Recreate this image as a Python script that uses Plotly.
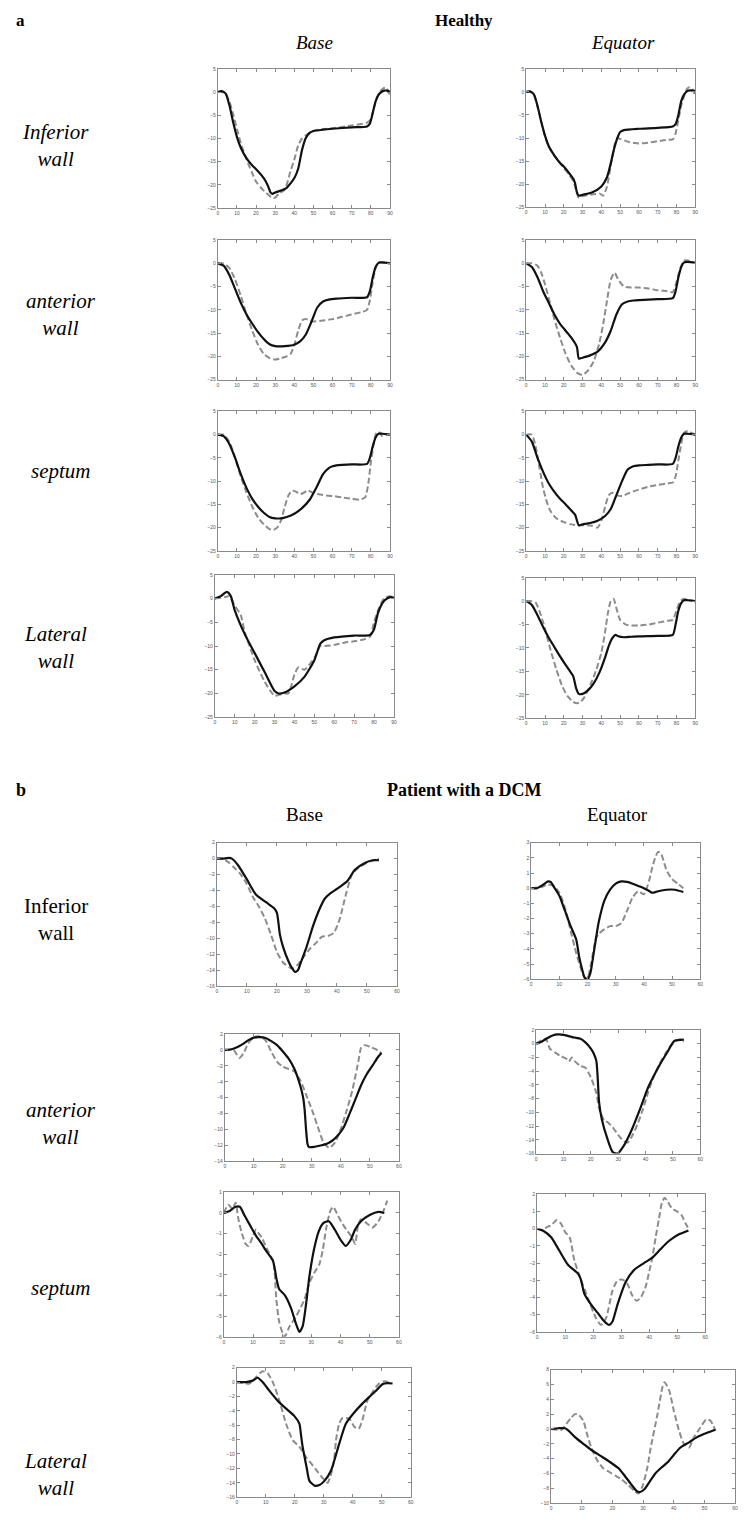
import plotly.graph_objects as go

# the page body adds an 8px margin, so the figure is 8px smaller and positions are shifted
OFF = 8
W, H = 754 - OFF, 1539 - OFF

# ---------------- a: Healthy (x 0..90, y -25..5) ----------------
# Base / Inferior wall
hb_inf_sx = [0, 2, 4, 6, 8, 10, 12, 15, 18, 20, 23, 25, 26.5, 27.5, 28.5, 30, 33, 36, 40, 42, 44, 46, 48, 50, 55, 60, 70, 78, 79.5, 81, 82.5, 84, 85.5, 87, 88.5, 90]
hb_inf_sy = [0, 0.2, -0.3, -2.8, -6.5, -9.7, -12, -14.3, -15.8, -16.6, -18, -19.2, -20.5, -21.6, -21.9, -21.6, -21.2, -20.6, -18.5, -16.5, -12.5, -9.9, -8.8, -8.4, -8.1, -7.9, -7.6, -7.4, -6.8, -4.5, -2, -0.6, 0, 0.3, 0.3, 0.1]
hb_inf_dx = [0, 2, 4, 6, 8, 10, 12, 15, 18, 20, 23, 25, 27, 28.5, 30, 32, 35, 38, 40, 42, 44, 46, 50, 55, 60, 70, 78, 80, 81.5, 83, 85, 86.5, 88, 90]
hb_inf_dy = [0, 0, -0.3, -2, -4.8, -8, -11, -14.5, -17.5, -19.3, -20.8, -21.6, -22.3, -22.8, -22.7, -21.8, -21, -17, -14.5, -11.5, -10, -9.3, -8.3, -8, -7.8, -7.2, -6.6, -5.8, -3.5, -1.5, 0.2, 0.8, 0.9, -0.6]

# Equator / Inferior wall
he_inf_sx = [0, 2, 4, 6, 8, 10, 12, 15, 18, 20, 23, 25, 26, 27, 28, 30, 35, 40, 43, 45, 47, 49, 50, 52, 60, 70, 78, 79.5, 81, 82.5, 84, 85.5, 87, 90]
he_inf_sy = [0, 0.1, -0.5, -3, -6.5, -9.5, -11.8, -13.8, -15.4, -16.2, -17.7, -18.8, -19.8, -21.8, -22.5, -22.3, -21.8, -20.5, -18.5, -15.5, -12, -9.5, -8.7, -8.3, -8, -7.8, -7.5, -7, -5, -2, -0.6, 0.1, 0.3, 0.2]
he_inf_dx = [0, 2, 4, 6, 8, 10, 12, 15, 18, 20, 23, 25, 26, 27, 28, 30, 33, 36, 39, 41, 43, 45, 47, 48.5, 50, 55, 60, 65, 70, 75, 78, 79.5, 81, 82.5, 84, 85.5, 87, 88.5, 90]
he_inf_dy = [0, 0, -0.5, -3.2, -6.5, -9.6, -11.8, -13.8, -15.4, -16.5, -18, -19.3, -20.5, -22, -23, -22.6, -22.3, -22.2, -22, -22.5, -20.5, -16, -11.5, -10, -10.2, -10.9, -11.2, -11, -10.7, -10.4, -10.3, -9, -6, -3, -1, 0.6, 1, 0.6, -1]

# Base / anterior wall
hb_ant_sx = [0, 3, 6, 9, 12, 15, 18, 21, 24, 27, 30, 35, 40, 43, 46, 49, 52, 55, 58, 62, 70, 78, 79.5, 81, 82.5, 84, 86, 90]
hb_ant_sy = [0, -0.5, -2.5, -5.5, -8.5, -11, -13, -14.8, -16.3, -17.4, -17.8, -17.8, -17.5, -16.8, -15.3, -12.5, -9.5, -8.2, -7.8, -7.6, -7.4, -7.3, -6, -3, -0.8, 0.1, 0.2, 0]
hb_ant_dx = [0, 3, 6, 9, 12, 15, 18, 21, 24, 27, 30, 33, 36, 38, 40, 42, 44, 46, 50, 55, 60, 65, 70, 75, 78, 79.5, 81, 82.5, 84, 86, 90]
hb_ant_dy = [0, 0, -1, -3.5, -7, -11, -14.5, -17.5, -19.5, -20.4, -20.7, -20.4, -20, -19.5, -17.5, -14.5, -12.3, -12, -12.5, -12.3, -12, -11.5, -11, -10.5, -10, -8, -4, -1, 0.3, 0.2, 0]

# Equator / anterior wall
he_ant_sx = [0, 3, 6, 9, 12, 15, 18, 21, 24, 27, 28, 30, 34, 38, 42, 45, 48, 51, 54, 57, 60, 70, 78, 79.5, 81, 82.5, 84, 86, 90]
he_ant_sy = [0, -0.8, -3, -6, -8.5, -11, -13, -14.5, -16, -18, -20.5, -20.3, -19.8, -19, -17, -14.5, -11, -8.8, -8.2, -8, -7.9, -7.7, -7.5, -6, -3, -0.8, 0.2, 0.3, 0.1]
he_ant_dx = [0, 3, 6, 8, 10, 12, 15, 18, 21, 24, 27, 30, 33, 36, 39, 41, 43, 45, 47, 49, 52, 56, 60, 65, 70, 75, 78, 80, 82, 84, 86, 90]
he_ant_dy = [0, 0, -0.5, -2, -4.5, -7.5, -12, -16, -19.5, -22, -23.5, -24, -23, -21, -17, -13, -8, -3.5, -2, -3.5, -5, -5.2, -5.2, -5.4, -5.8, -6, -6.2, -4, -1, 0.6, 0.6, 0]

# Base / septum
hb_sep_sx = [0, 3, 6, 9, 12, 15, 18, 21, 24, 27, 30, 33, 36, 40, 44, 48, 52, 55, 58, 60, 62, 65, 70, 78, 79.5, 81, 82.5, 84, 86, 90]
hb_sep_sy = [0, -0.3, -2, -5, -8.5, -11.5, -13.8, -15.5, -16.8, -17.7, -18, -18, -17.7, -17, -15.8, -14, -11, -8.5, -7.2, -6.8, -6.6, -6.5, -6.4, -6.3, -5, -2.5, -0.6, 0.2, 0.2, 0]
hb_sep_dx = [0, 3, 6, 9, 12, 15, 18, 21, 24, 27, 29, 31, 33, 35, 37, 39, 41, 43, 45, 47, 50, 55, 60, 65, 70, 74, 77, 78.5, 80, 81.5, 83, 84.5, 86, 88, 90]
hb_sep_dy = [0, 0, -1.5, -5, -9, -12.5, -15.5, -17.8, -19.3, -20.3, -20.5, -20, -18.5, -15.5, -13, -12, -12.3, -12.8, -12.5, -12, -12.6, -13, -13.2, -13.5, -13.8, -14, -13.5, -11, -6, -2, 0.5, 0.5, -0.3, 0, 0]

# Equator / septum
he_sep_sx = [0, 3, 6, 9, 12, 15, 18, 21, 24, 26, 28, 30, 34, 38, 42, 45, 48, 51, 54, 57, 60, 65, 70, 78, 79.5, 81, 82.5, 84, 86, 90]
he_sep_sy = [0, -1.5, -5, -8, -10.5, -12.3, -13.8, -15, -16.3, -17.2, -19.5, -19.3, -19, -18.5, -17.5, -16, -13, -10, -7.5, -6.8, -6.6, -6.5, -6.4, -6.3, -5, -2.5, -0.6, 0.2, 0.2, 0]
he_sep_dx = [0, 3, 5, 7, 9, 11, 13, 16, 20, 24, 28, 32, 35, 38, 40, 42, 44, 46, 48, 51, 55, 60, 65, 70, 75, 78, 79.5, 81, 82.5, 84, 86, 88, 90]
he_sep_dy = [0, 0, -2.5, -7, -11.5, -14.5, -16.5, -18, -18.8, -19.3, -19.5, -19.5, -19.6, -20, -18.5, -15.5, -13, -12.5, -13, -13.2, -12.5, -11.8, -11.2, -10.8, -10.5, -10.3, -9, -5.5, -2, 0.4, 0.8, 0.4, 0]

# Base / Lateral wall
hb_lat_sx = [0, 3, 6, 8, 10, 15, 20, 25, 30, 32, 35, 40, 45, 50, 53, 55, 60, 70, 78, 80, 82, 85, 88, 90]
hb_lat_sy = [0, 0.5, 1.4, 0.5, -2.5, -7.5, -11.5, -15.5, -19.5, -20, -19.8, -18.5, -16.5, -13, -9.5, -8.8, -8.2, -7.8, -7.7, -6.5, -3, -0.5, 0.3, 0.2]
hb_lat_dx = [0, 5, 7, 10, 13, 15, 20, 25, 30, 32, 35, 37, 40, 42, 45, 50, 53, 55, 60, 65, 70, 75, 78, 80, 82, 85, 88, 90]
hb_lat_dy = [0, 0.3, 0.5, -1.5, -3.5, -7, -13, -17.5, -20.5, -20.3, -20, -20, -16, -14.5, -15, -12.5, -10, -10, -9.8, -9.3, -9, -8.6, -8, -5, -2.5, 0, 0.5, 0.2]

# Equator / Lateral wall
he_lat_sx = [0, 3, 6, 9, 12, 15, 18, 21, 23, 25, 26.5, 28, 30, 33, 36, 39, 42, 44, 46, 47.5, 49, 52, 56, 60, 70, 78, 79.5, 81, 82.5, 84, 86, 90]
he_lat_sy = [0, -0.8, -3, -5.5, -7.8, -9.8, -11.8, -13.6, -14.8, -16, -18.5, -19.8, -19.8, -19, -17.5, -15.2, -12, -9.5, -7.8, -7.2, -7.5, -7.7, -7.6, -7.5, -7.4, -7.2, -5, -2, -0.4, 0.2, 0.2, 0]
he_lat_dx = [0, 3, 5, 7, 9, 11, 13, 16, 19, 22, 25, 27, 29, 31, 34, 37, 40, 42, 43.5, 45, 46.5, 48, 50, 53, 56, 60, 65, 70, 75, 78, 80, 82, 84, 86, 90]
he_lat_dy = [0, 0, -0.3, -2, -4.5, -7.5, -10.5, -14.5, -18, -20.3, -21.5, -21.8, -21.5, -20.5, -18, -15, -11, -6.5, -2.5, 0, 0.5, -1.5, -4, -5, -5.2, -5.2, -5, -4.6, -4.2, -4, -2, 0, 0.5, 0.3, 0]

# ---------------- b: Patient with a DCM (x 0..60) ----------------
db_inf_sx = [0, 2, 4, 5, 7, 10, 13, 16.5, 19, 20, 20.5, 21, 22, 24, 25, 26, 27, 28, 29.7, 32, 34, 36, 38, 40, 43.5, 46, 49.5, 52, 54]
db_inf_sy = [0, 0, 0.1, 0, -0.8, -2.6, -4.5, -5.5, -6.2, -6.8, -8, -9.5, -11, -13, -13.7, -14.2, -14, -13, -11.3, -8.5, -6.5, -5, -4.3, -3.8, -2.8, -1.4, -0.5, -0.2, -0.2]
db_inf_dx = [0, 2, 4, 6, 8, 10, 12, 14, 16, 18, 20, 22, 24, 25, 27, 29, 31, 33, 35, 37, 39, 41, 43, 45, 47, 50, 53, 54]
db_inf_dy = [0, 0, -0.5, -1.2, -2, -3.2, -4.8, -6, -7.5, -9.5, -11.7, -13, -13.6, -13.8, -13.3, -12.3, -11.3, -10.6, -9.8, -9.7, -9.3, -7.5, -4.5, -2, -1.2, -0.5, -0.1, 0]

de_inf_sx = [0, 2, 4, 6, 7, 8, 10, 12, 14, 16, 17, 18, 19, 20, 21, 22, 23, 24, 26, 28, 30, 32, 34, 36, 38, 40, 42, 43, 45, 48, 51, 54]
de_inf_sy = [0, 0, 0.2, 0.45, 0.4, 0.1, -0.5, -1.5, -2.5, -3.4, -4.5, -5.3, -5.9, -6, -5.6, -4.5, -3.3, -2.2, -0.8, -0.1, 0.3, 0.45, 0.42, 0.3, 0.15, 0, -0.2, -0.3, -0.2, -0.1, -0.1, -0.25]
de_inf_dx = [0, 4, 6, 8, 10, 12, 14, 16, 18, 19, 20, 21, 22, 23, 24, 26, 28, 30, 32, 34, 36, 38, 40, 41, 42, 43, 44, 45, 46, 47, 48, 50, 52, 54]
de_inf_dy = [0, 0.1, 0.25, 0.15, -0.3, -1.3, -2.8, -4.3, -5.5, -5.9, -5.9, -5.2, -4.2, -3.3, -3, -2.7, -2.5, -2.5, -2.3, -1.5, -0.6, -0.2, -0.4, 0, 0.6, 1.4, 2, 2.4, 2.3, 1.8, 1.2, 0.6, 0.3, 0]

db_ant_sx = [0, 2, 4, 6, 8, 10, 12, 14, 16, 18, 20, 22, 24, 26, 27, 27.5, 28, 28.5, 29, 31, 33, 35, 37, 39, 41, 43, 45, 47, 49, 51, 53, 54]
db_ant_sy = [0, 0.05, 0.3, 0.7, 1.2, 1.55, 1.6, 1.5, 1.1, 0.6, -0.2, -1.1, -2.4, -4.5, -6, -7.5, -10, -11.8, -12.2, -12.15, -12, -11.8, -11.4, -10.7, -9.7, -8, -6.2, -4.4, -3, -1.9, -0.8, -0.4]
db_ant_dx = [0, 3, 5, 6.5, 8, 10, 12, 14, 16, 18, 20, 22, 24, 26, 28, 30, 32, 34, 36, 38, 40, 42, 44, 46, 47, 48, 50, 52, 54]
db_ant_dy = [0, 0, -1, -0.4, 0.8, 1.6, 1.7, 1.2, -0.2, -1.5, -2.1, -2.4, -2.7, -3.8, -5.6, -7.5, -9.6, -11.6, -12.3, -11.6, -9.9, -7.6, -5, -1.5, 0.3, 0.6, 0.4, 0.1, -0.4]

de_ant_sx = [0, 2, 4, 6, 8, 10, 12, 14, 16, 18, 20, 21, 22, 22.5, 23, 24, 26, 28, 29.8, 32, 35, 38, 41, 45, 48, 50.5, 54]
de_ant_sy = [0, 0.3, 0.8, 1.2, 1.35, 1.3, 1.1, 0.9, 0.75, 0.2, -0.7, -1.4, -2.5, -5, -8.5, -11, -13.8, -15.8, -16, -14.9, -12.5, -9.5, -6.3, -3.2, -1.2, 0.4, 0.6]
de_ant_dx = [0, 2, 3.6, 5, 7, 9, 11, 12, 13, 14, 16, 18, 20, 22, 23, 25, 26, 28, 30, 32, 33.5, 35, 37, 39, 41, 43, 45, 47, 49, 51, 53, 54]
de_ant_dy = [0, 0.5, 0.7, -0.7, -1.3, -1.8, -2.2, -2.6, -2, -2.5, -3.2, -3.5, -4.9, -7.2, -9.4, -11.3, -11.4, -12.2, -13.3, -14.2, -14.4, -13.5, -11.8, -9.6, -7, -4.8, -3, -1.6, -0.4, 0.4, 0.6, 0.3]

db_sep_sx = [0, 2, 4, 5.5, 7, 9, 11, 13, 14.5, 16.8, 18.2, 19, 21, 23, 24.8, 25.9, 27, 28.2, 29.3, 31, 32.5, 34, 36, 38, 40, 41.8, 43.5, 45, 47, 50, 53, 55]
db_sep_sy = [0, 0.1, 0.3, 0.3, -0.1, -0.6, -1.1, -1.5, -1.84, -2.3, -3.3, -3.7, -4, -4.6, -5.4, -5.76, -5.5, -4.4, -3.1, -1.7, -0.9, -0.5, -0.4, -0.8, -1.3, -1.6, -1.3, -0.8, -0.4, -0.1, 0.05, 0]
db_sep_dx = [0, 1.5, 3, 4, 5, 6, 7.5, 8.5, 10, 11, 12, 13, 15, 17, 18, 19, 20.8, 22.5, 24.8, 27.6, 29.3, 31, 32.7, 33.9, 35, 36.5, 37.5, 39, 41, 42.5, 44, 45, 46, 47, 49, 51, 53, 55, 56]
db_sep_dy = [0, 0.4, 0.2, 0.5, -0.3, -0.9, -1.5, -1.6, -1.1, -0.8, -1, -1.2, -1.8, -2.4, -4.2, -5.3, -6, -5.5, -5, -4.2, -3.4, -2.9, -2.5, -1.8, -0.8, 0.1, 0.3, -0.1, -0.6, -0.9, -1.2, -1.5, -0.6, -0.3, -0.5, -0.7, -0.4, 0.2, 0.6]

de_sep_sx = [0, 2, 5, 8, 11, 14.5, 15.5, 16.9, 19.2, 21.6, 24, 25.7, 26.9, 28.7, 31.6, 34.6, 38.1, 41, 44, 46.4, 48.8, 51, 54]
de_sep_sy = [0, -0.1, -0.5, -1.3, -2.1, -2.6, -2.9, -3.8, -4.4, -4.9, -5.4, -5.6, -5.4, -4.4, -3.1, -2.4, -2, -1.7, -1.2, -0.8, -0.5, -0.3, -0.1]
de_sep_dx = [0, 2, 3.5, 5, 7, 8.5, 10, 11.6, 13.3, 15.7, 18, 21, 22.8, 24.6, 26.9, 28.5, 29.9, 31, 32.2, 34, 35.5, 37, 38.7, 40, 41.1, 42.3, 43.5, 44.5, 45.5, 46.5, 48, 50, 51.5, 53, 54]
de_sep_dy = [0, -0.1, 0.1, 0.2, 0.5, 0.3, -0.2, -0.5, -1.86, -3, -4, -5.2, -5.6, -5.2, -3.6, -3.05, -2.95, -3, -3.2, -3.9, -4.2, -4, -3.4, -2.5, -1.7, -0.5, 0.6, 1.5, 1.8, 1.6, 1.2, 1, 0.8, 0.3, 0]

db_lat_sx = [0, 3.2, 5.5, 7.2, 8.9, 11.2, 14.1, 17, 19.8, 21.6, 22.1, 22.7, 24.1, 25, 26.8, 28.5, 30.3, 32.5, 35.3, 37.6, 41, 43.3, 45.6, 48, 50.2, 52, 53.7]
db_lat_sy = [0, 0, 0.2, 0.6, 0, -1.2, -2.6, -3.7, -4.7, -5.8, -7.2, -9, -11.9, -13.7, -14.4, -14.3, -13.7, -12.3, -8.6, -5.8, -4, -3, -2.1, -1.2, -0.3, -0.15, -0.2]
db_lat_dx = [0, 4.4, 6.7, 8.9, 10.7, 12.4, 14.7, 17, 19.3, 21.6, 24, 27, 29.5, 31.3, 32.5, 33.5, 34.2, 35.3, 36.5, 38.8, 40.5, 42, 43.3, 45, 46.8, 49, 50.8, 52.5]
db_lat_dy = [0, -0.2, 0.7, 1.5, 1.2, 0, -2.6, -5.8, -8.1, -9, -10.5, -12, -13.3, -14, -12.8, -11, -8.1, -5.8, -5, -5.1, -6.2, -6.5, -5.3, -2.6, -1.4, -0.2, 0.1, 0]

de_lat_sx = [0, 2.4, 4.5, 5.6, 7.8, 10.5, 13, 16, 19, 22, 24, 26, 28, 29, 30.5, 32, 34, 36, 38, 40, 42.2, 45, 47.6, 50.9, 53.6]
de_lat_sy = [0, 0.1, 0.1, -0.2, -1.1, -2, -2.8, -3.6, -4.4, -5.3, -6.3, -7.4, -8.4, -8.5, -8.1, -7.2, -6, -5.2, -4.5, -3.5, -2.5, -1.8, -1.1, -0.5, -0.1]
de_lat_dx = [0, 3.4, 5, 6.5, 7.8, 8.8, 10.5, 12, 13.1, 15, 17, 19, 21, 23, 25, 27, 28.5, 30, 31.5, 32.5, 34.7, 36.3, 37, 38.5, 40, 41.7, 43.3, 45, 46.6, 48.7, 50.6, 52, 53.6]
de_lat_dy = [0, -0.1, 0.7, 1.5, 2, 2, 1.1, -1.1, -2.5, -4.2, -5.3, -5.8, -6.3, -6.8, -7.5, -8.3, -8.7, -7.5, -5, -2.5, 2, 5.6, 6.3, 5.2, 2.5, -0.2, -2, -2.5, -1.1, 0.2, 1.3, 1.1, -0.2]

# panel boxes in page pixels (left, right, top, bottom) and axis settings
panels = [
    (hb_inf_sx, hb_inf_sy, hb_inf_dx, hb_inf_dy, (218, 391, 66, 206), [0, 90], 10, [-25, 5], 5),
    (he_inf_sx, he_inf_sy, he_inf_dx, he_inf_dy, (528, 698, 66, 205), [0, 90], 10, [-25, 5], 5),
    (hb_ant_sx, hb_ant_sy, hb_ant_dx, hb_ant_dy, (218, 391, 238, 378), [0, 90], 10, [-25, 5], 5),
    (he_ant_sx, he_ant_sy, he_ant_dx, he_ant_dy, (528, 698, 238, 378), [0, 90], 10, [-25, 5], 5),
    (hb_sep_sx, hb_sep_sy, hb_sep_dx, hb_sep_dy, (218, 391, 410, 550), [0, 90], 10, [-25, 5], 5),
    (he_sep_sx, he_sep_sy, he_sep_dx, he_sep_dy, (528, 698, 410, 550), [0, 90], 10, [-25, 5], 5),
    (hb_lat_sx, hb_lat_sy, hb_lat_dx, hb_lat_dy, (215, 395, 574, 717), [0, 90], 10, [-25, 5], 5),
    (he_lat_sx, he_lat_sy, he_lat_dx, he_lat_dy, (528, 698, 577, 718), [0, 90], 10, [-25, 5], 5),
    (db_inf_sx, db_inf_sy, db_inf_dx, db_inf_dy, (217, 398, 843, 987), [0, 60], 10, [-16, 2], 2),
    (de_inf_sx, de_inf_sy, de_inf_dx, de_inf_dy, (533, 703, 843, 980), [0, 60], 10, [-6, 3], 1),
    (db_ant_sx, db_ant_sy, db_ant_dx, db_ant_dy, (225, 400, 1035, 1163), [0, 60], 10, [-14, 2], 2),
    (de_ant_sx, de_ant_sy, de_ant_dx, de_ant_dy, (538, 703, 1031, 1155), [0, 60], 10, [-16, 2], 2),
    (db_sep_sx, db_sep_sy, db_sep_dx, db_sep_dy, (224, 400, 1194, 1339), [0, 60], 10, [-6, 1], 1),
    (de_sep_sx, de_sep_sy, de_sep_dx, de_sep_dy, (539, 708, 1196, 1334), [0, 60], 10, [-6, 2], 1),
    (db_lat_sx, db_lat_sy, db_lat_dx, db_lat_dy, (237, 412, 1370, 1500), [0, 60], 10, [-16, 2], 2),
    (de_lat_sx, de_lat_sy, de_lat_dx, de_lat_dy, (553, 738, 1372, 1506), [0, 60], 10, [-10, 8], 2),
]


def px(x):
    return (x - OFF) / W


def py(y):
    return 1 - (y - OFF) / H


fig = go.Figure()
axis_style = dict(showgrid=False, zeroline=False, showline=True, linecolor="#8a8a8a", linewidth=1,
                  mirror="allticks", ticks="inside", ticklen=3, tickcolor="#8a8a8a",
                  tickfont=dict(size=5, color="#555", family="Liberation Sans"))

for i, (sx, sy, dx, dy, box, xr, xd, yr, yd) in enumerate(panels, start=1):
    xa = "x" if i == 1 else f"x{i}"
    ya = "y" if i == 1 else f"y{i}"
    fig.add_trace(go.Scatter(x=dx, y=dy, xaxis=xa, yaxis=ya, mode="lines", hoverinfo="skip",
                             line=dict(color="#8c8c8c", width=2, dash="6px,3px", shape="spline", smoothing=0.6)))
    fig.add_trace(go.Scatter(x=sx, y=sy, xaxis=xa, yaxis=ya, mode="lines", hoverinfo="skip",
                             line=dict(color="#111111", width=2.2, shape="spline", smoothing=0.6)))
    left, right, top, bottom = box
    fig.update_layout(**{
        f"xaxis{i}": dict(domain=[px(left), px(right)], range=xr, dtick=xd, anchor=ya, **axis_style),
        f"yaxis{i}": dict(domain=[py(bottom), py(top)], range=yr, dtick=yd, anchor=xa, **axis_style),
    })


def label(text, x, y, size=19):
    fig.add_annotation(text=text, x=px(x), y=py(y), xref="paper", yref="paper", showarrow=False,
                       xanchor="center", yanchor="middle", align="center", borderpad=0,
                       font=dict(family="Liberation Serif", size=size, color="#000"))


label("<b>a</b>", 20, 18, 17)
label("<b>Healthy</b>", 465, 18, 17)
label("<i>Base</i>", 315, 40)
label("<i>Equator</i>", 625, 40)
label("<i>Inferior<br>wall</i>", 55, 143, 21)
label("<i>anterior<br>wall</i>", 60, 313, 21)
label("<i>septum</i>", 60, 470, 21)
label("<i>Lateral<br>wall</i>", 55, 647, 21)

label("<b>b</b>", 20, 790, 18)
label("<b>Patient with a DCM</b>", 465, 790, 18)
label("Base", 305, 815)
label("Equator", 620, 815)
label("Inferior<br>wall", 55, 920, 21)
label("<i>anterior<br>wall</i>", 60, 1125, 21)
label("<i>septum</i>", 60, 1290, 21)
label("<i>Lateral<br>wall</i>", 55, 1477, 21)

fig.update_layout(width=W, height=H, margin=dict(l=0, r=0, t=0, b=0), showlegend=False,
                  paper_bgcolor="white", plot_bgcolor="white")

fig.write_html("out.html")
